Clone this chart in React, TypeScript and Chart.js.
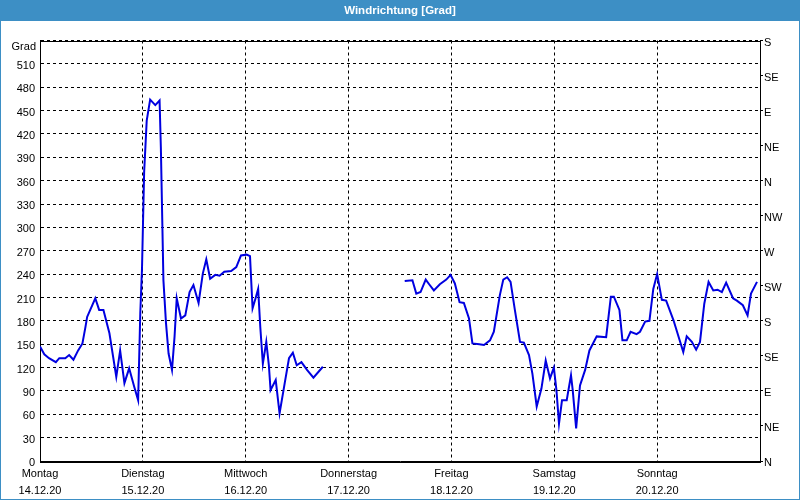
import React, { useEffect, useRef } from "react";
import { Chart, registerables } from "chart.js";

Chart.register(...registerables);

const titleText = "Windrichtung [Grad]";
const dayNames = ["Montag", "Dienstag", "Mittwoch", "Donnerstag", "Freitag", "Samstag", "Sonntag"];
const dayDates = ["14.12.20", "15.12.20", "16.12.20", "17.12.20", "18.12.20", "19.12.20", "20.12.20"];
const compassLabels = ["N", "NE", "E", "SE", "S", "SW", "W", "NW", "N", "NE", "E", "SE", "S"];
const unitLabel = "Grad";

// hours since Monday 14.12.20 00:00
const hours = [
  0, 1, 2.1, 3.7, 4.5, 5.9, 6.8, 7.8, 8.9, 9.9, 10.6, 11.0, 12.9, 13.8, 14.8, 16.2, 17.8, 18.7, 19.7, 20.8,
  22.0, 22.9, 23.4, 23.8, 24.3, 24.9, 25.7, 26.9, 27.9, 28.2, 28.8, 29.4, 30.0, 30.8, 31.4, 31.9, 32.9, 33.9,
  34.9, 35.8, 37.0, 38.0, 38.8, 39.7, 40.9, 41.9, 43.0, 44.6, 45.8, 46.9, 48.2, 49.0, 49.6, 50.3, 50.9, 51.4,
  52.0, 52.8, 53.4, 53.8, 55.0, 55.9, 57.1, 58.1, 59.0, 59.9, 61.0, 62.3, 63.8, 66.0,
  75.0,
  85.1, 86.9, 87.8, 88.8, 90.0, 90.8, 91.9, 93.3, 94.8, 95.8, 96.8, 97.9, 98.9, 100.1, 100.9, 102.5, 103.6,
  105.0, 105.9, 107.3, 108.1, 109.0, 109.8, 110.8, 112.0, 112.9, 114.1, 114.9, 115.9, 117.0, 118.0, 119.0,
  119.9, 120.5, 121.1, 121.8, 122.9, 123.9, 124.3, 125.1, 126.0, 127.2, 128.2, 129.9, 132.1, 133.2, 133.9,
  135.2, 135.9, 136.9, 137.8, 139.2, 140.0, 141.2, 142.2, 143.1, 144.0, 145.1, 146.1, 147.8, 150.1, 150.9,
  152.1, 153.1, 154.0, 155.0, 156.0, 157.1, 158.1, 159.1, 160.1, 161.7, 162.6, 164.0, 165.1, 165.9, 167.3,
];

const degrees: (number | null)[] = [
  147, 137, 132, 127, 132, 132, 136, 130, 142, 151, 172, 185, 209, 194, 194, 164, 108, 142, 100, 119,
  95, 78, 190, 247, 371, 437, 464, 457, 463, 403, 232, 177, 138, 117, 160, 209, 183, 187,
  217, 226, 203, 241, 259, 234, 239, 238, 243, 244, 249, 264, 265, 263, 196, 209, 221, 172,
  125, 153, 123, 91, 104, 61, 100, 132, 139, 123, 127, 117, 107, 121,
  null,
  231, 232, 215, 217, 233, 227, 219, 227, 233, 239, 228, 204, 203, 183, 151, 150, 149,
  155, 166, 213, 233, 236, 230, 194, 153, 152, 136, 112, 70, 93, 129, 106,
  120, 91, 48, 78, 78, 110, 91, 42, 97, 117, 142, 160, 159, 211, 211,
  194, 155, 155, 166, 163, 166, 179, 180, 221, 240, 207, 206, 181, 140, 160,
  153, 143, 153, 202, 230, 219, 220, 217, 229, 209, 206, 200, 187, 215, 230,
];

const FONT = "'Liberation Sans', Arial, sans-serif";
const BAR_COLOR = "#3d8fc5";

const framePlugin = {
  id: "frame",
  beforeDraw(chart: any) {
    const { ctx, width, height } = chart;
    ctx.save();
    ctx.fillStyle = "#ffffff";
    ctx.fillRect(0, 0, width, height);
    ctx.fillStyle = BAR_COLOR;
    ctx.fillRect(0, 0, width, 21);
    ctx.strokeStyle = BAR_COLOR;
    ctx.lineWidth = 1;
    ctx.strokeRect(0.5, 0.5, width - 1, height - 1);
    ctx.restore();
  },
  beforeDatasetsDraw(chart: any) {
    const { ctx, chartArea: a } = chart;
    ctx.save();
    ctx.strokeStyle = "#000";
    ctx.lineWidth = 1;
    ctx.setLineDash([]);
    ctx.strokeRect(
      Math.round(a.left) + 0.5,
      Math.round(a.top) + 0.5,
      Math.round(a.right - a.left),
      Math.round(a.bottom - a.top)
    );
    ctx.restore();
  },
  afterDraw(chart: any) {
    const { ctx, chartArea: a } = chart;
    ctx.save();
    ctx.fillStyle = "#000";
    ctx.font = `11px ${FONT}`;
    ctx.textAlign = "right";
    ctx.textBaseline = "middle";
    ctx.fillText(unitLabel, a.left - 4, a.top + 6);
    ctx.restore();
  },
};

export default function App() {
  const ref = useRef<HTMLCanvasElement>(null);

  useEffect(() => {
    document.body.style.margin = "0";
    const points = hours.map((h, i) => ({ x: h, y: degrees[i] }));
    const chart = new Chart(ref.current!, {
      type: "line",
      data: {
        datasets: [
          {
            data: points as any,
            borderColor: "#0000e0",
            borderWidth: 2,
            pointRadius: 0,
            tension: 0,
            spanGaps: false,
            fill: false,
            yAxisID: "y",
          },
        ],
      },
      options: {
        animation: false,
        responsive: false,
        layout: { padding: 0 },
        plugins: {
          legend: { display: false },
          tooltip: { enabled: false },
          title: {
            display: true,
            text: titleText,
            color: "#ffffff",
            font: { family: FONT, size: 11.5, weight: "bold" },
            padding: { top: 4, bottom: 22.7 },
          },
        },
        scales: {
          x: {
            type: "linear",
            min: 0,
            max: 168,
            afterBuildTicks: (scale: any) => {
              scale.ticks = [0, 24, 48, 72, 96, 120, 144, 168].map((v) => ({ value: v }));
            },
            afterFit: (scale: any) => {
              scale.height = 39;
            },
            grid: {
              color: "#000",
              lineWidth: 1,
              drawTicks: false,
            },
            border: { display: true, color: "#000", dash: [3, 3] } as any,
            ticks: {
              autoSkip: false,
              maxRotation: 0,
              padding: 4,
              color: "#000",
              font: { family: FONT, size: 11, lineHeight: 1.55 },
              callback: (v: any) => {
                const i = Math.round(Number(v) / 24);
                return i < dayNames.length ? [dayNames[i], dayDates[i]] : "";
              },
            },
          },
          y: {
            type: "linear",
            position: "left",
            min: 0,
            max: 540,
            afterFit: (scale: any) => {
              scale.width = 40;
            },
            grid: { color: "#000", lineWidth: 1, drawTicks: false },
            border: { display: true, color: "#000", dash: [3, 3] } as any,
            ticks: {
              stepSize: 30,
              padding: 5,
              labelOffset: 2,
              color: "#000",
              font: { family: FONT, size: 11 },
              callback: (v: any) => (Number(v) === 540 ? "" : String(v)),
            },
          },
          y2: {
            type: "linear",
            position: "right",
            min: 0,
            max: 540,
            afterFit: (scale: any) => {
              scale.width = 40;
            },
            grid: { drawOnChartArea: false, drawTicks: true, tickLength: 3, color: "#000" },
            border: { display: true, color: "#000" },
            ticks: {
              stepSize: 45,
              padding: 1,
              labelOffset: 2,
              color: "#000",
              font: { family: FONT, size: 11 },
              callback: (v: any) => compassLabels[Math.round(Number(v) / 45)] ?? "",
            },
          },
        },
      },
      plugins: [framePlugin],
    });
    return () => chart.destroy();
  }, []);

  return (
    <div style={{ position: "fixed", left: 0, top: 0, width: 800, height: 500 }}>
      <canvas ref={ref} width={800} height={500} />
    </div>
  );
}
